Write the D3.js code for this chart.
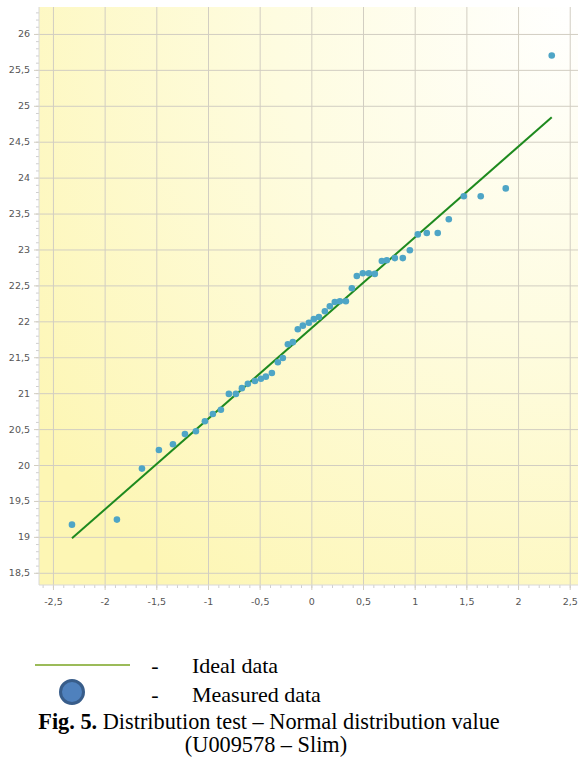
<!DOCTYPE html>
<html>
<head>
<meta charset="utf-8">
<script src="https://cdn.jsdelivr.net/npm/d3@7"></script>
<style>
  body { margin: 0; background: #fff; }
  svg { display: block; }
</style>
</head>
<body>
<div id="chart"></div>
<script>
var qx = [-2.316, -1.881, -1.639, -1.475, -1.339, -1.223, -1.117, -1.030, -0.953, -0.875,
          -0.798, -0.730, -0.672, -0.614, -0.546, -0.488, -0.440, -0.382, -0.324, -0.276,
          -0.227, -0.179, -0.131, -0.082, -0.024, 0.024, 0.073, 0.131, 0.179, 0.227,
          0.276, 0.334, 0.392, 0.440, 0.498, 0.556, 0.614, 0.682, 0.730, 0.808,
          0.885, 0.953, 1.030, 1.117, 1.223, 1.330, 1.475, 1.639, 1.881, 2.326]
var qy = [19.17, 19.24, 19.95, 20.21, 20.29, 20.43, 20.47, 20.61, 20.71, 20.77,
          20.99, 20.99, 21.07, 21.13, 21.17, 21.20, 21.23, 21.28, 21.43, 21.49,
          21.68, 21.71, 21.89, 21.94, 21.98, 22.03, 22.06, 22.14, 22.21, 22.27,
          22.28, 22.28, 22.46, 22.63, 22.67, 22.67, 22.66, 22.84, 22.85, 22.88,
          22.88, 22.99, 23.21, 23.23, 23.23, 23.42, 23.74, 23.74, 23.85, 25.70]

// ideal line end points
var lineX = [-2.316, 2.326]
var lineY = [18.98, 24.84]

var xTicks = [-2.5, -2, -1.5, -1, -0.5, 0, 0.5, 1, 1.5, 2, 2.5]
var yTicks = [18.5, 19, 19.5, 20, 20.5, 21, 21.5, 22, 22.5, 23, 23.5, 24, 24.5, 25, 25.5, 26]

var legendLabels = ["Ideal data", "Measured data"]
var captionBold = "Fig. 5."
var captionRest = " Distribution test \u2013 Normal distribution value"
var captionLine2 = "(U009578 \u2013 Slim)"

var width = 580, height = 763
var L = 39, R = 578, T = 7, B = 585

var fmt = function(d){ return String(d).replace(".", ","); }

var svg = d3.select("#chart").append("svg")
    .attr("width", width).attr("height", height)

var x = d3.scaleLinear().domain([-2.635, 2.58]).range([L, R])
var y = d3.scaleLinear().domain([18.33, 26.375]).range([B, T])

// background gradient
var defs = svg.append("defs")
var grad = defs.append("radialGradient").attr("id", "bg")
    .attr("cx", 1).attr("cy", 0).attr("r", 1.25).attr("fx", 1).attr("fy", 0)
grad.append("stop").attr("offset", 0).attr("stop-color", "#ffffff")
grad.append("stop").attr("offset", 0.45).attr("stop-color", "#fefce0")
grad.append("stop").attr("offset", 1).attr("stop-color", "#fdf6b4")

svg.append("rect")
    .attr("x", L).attr("y", T).attr("width", R - L).attr("height", B - T)
    .attr("fill", "url(#bg)")

// minor ticks
var yMinor = d3.range(185, 264).map(function(d){ return d / 10; })
var xMinor = d3.range(-26, 26).map(function(d){ return d / 10; })

svg.append("g")
    .attr("transform", "translate(" + L + ",0)")
    .call(d3.axisLeft(y).tickValues(yMinor).tickSize(3).tickFormat(""))
    .call(function(g){ g.select(".domain").remove(); })
    .selectAll("line").attr("stroke", "#cfcfcf")

svg.append("g")
    .attr("transform", "translate(0," + B + ")")
    .call(d3.axisBottom(x).tickValues(xMinor).tickSize(3).tickFormat(""))
    .call(function(g){ g.select(".domain").remove(); })
    .selectAll("line").attr("stroke", "#cfcfcf")

// grid + labels
var yAxis = svg.append("g")
    .attr("transform", "translate(" + (L - 5) + ",0)")
    .call(d3.axisLeft(y).tickValues(yTicks).tickSize(-(R - L + 5)).tickPadding(4).tickFormat(fmt))
yAxis.select(".domain").remove()
yAxis.selectAll("line").attr("stroke", "#d2cec2")
yAxis.selectAll("text").attr("fill", "#555").style("font-family", "DejaVu Sans").style("font-size", "9.5px")

var xAxis = svg.append("g")
    .attr("transform", "translate(0," + (B + 5) + ")")
    .call(d3.axisBottom(x).tickValues(xTicks).tickSize(-(B - T + 5)).tickPadding(8).tickFormat(fmt))
xAxis.select(".domain").remove()
xAxis.selectAll("line").attr("stroke", "#d2cec2")
xAxis.selectAll("text").attr("fill", "#555").style("font-family", "DejaVu Sans").style("font-size", "9.5px")

// axis lines
svg.append("line").attr("x1", L).attr("x2", L).attr("y1", T).attr("y2", B)
    .attr("stroke", "#d8d8d8")
svg.append("line").attr("x1", L).attr("x2", R).attr("y1", B).attr("y2", B)
    .attr("stroke", "#d8d8d8")

// ideal line
svg.append("line")
    .attr("x1", x(lineX[0])).attr("y1", y(lineY[0]))
    .attr("x2", x(lineX[1])).attr("y2", y(lineY[1]))
    .attr("stroke", "#1e8a1e").attr("stroke-width", 2)

// measured points
svg.selectAll(".pt")
    .data(qx)
    .enter()
    .append("circle")
    .attr("class", "pt")
    .attr("cx", function(d){ return x(d); })
    .attr("cy", function(d, i){ return y(qy[i]); })
    .attr("r", 3.3)
    .attr("fill", "#4ea5c6")

// legend
var serif = "Liberation Serif, Times New Roman, serif"
svg.append("line").attr("x1", 35).attr("x2", 130).attr("y1", 665).attr("y2", 665)
    .attr("stroke", "#9bbb59").attr("stroke-width", 2)
svg.append("circle").attr("cx", 72).attr("cy", 692).attr("r", 11.5)
    .attr("fill", "#4f81bd").attr("stroke", "#385d8a").attr("stroke-width", 3)

svg.selectAll(".dash")
    .data(legendLabels)
    .enter()
    .append("text")
    .attr("x", 155).attr("y", function(d, i){ return 673 + i * 29; })
    .attr("text-anchor", "middle")
    .style("font-family", serif).style("font-size", "22px")
    .text("-")

svg.selectAll(".leg")
    .data(legendLabels)
    .enter()
    .append("text")
    .attr("x", 192).attr("y", function(d, i){ return 673 + i * 29; })
    .style("font-family", serif).style("font-size", "22px")
    .text(function(d){ return d; })

var cap = svg.append("text")
    .attr("x", 269).attr("y", 729)
    .attr("text-anchor", "middle")
    .style("font-family", serif).style("font-size", "22.3px")
cap.append("tspan").attr("font-weight", "bold").text(captionBold)
cap.append("tspan").text(captionRest)

svg.append("text")
    .attr("x", 266).attr("y", 752)
    .attr("text-anchor", "middle")
    .style("font-family", serif).style("font-size", "22.3px")
    .text(captionLine2)
</script>
</body>
</html>
